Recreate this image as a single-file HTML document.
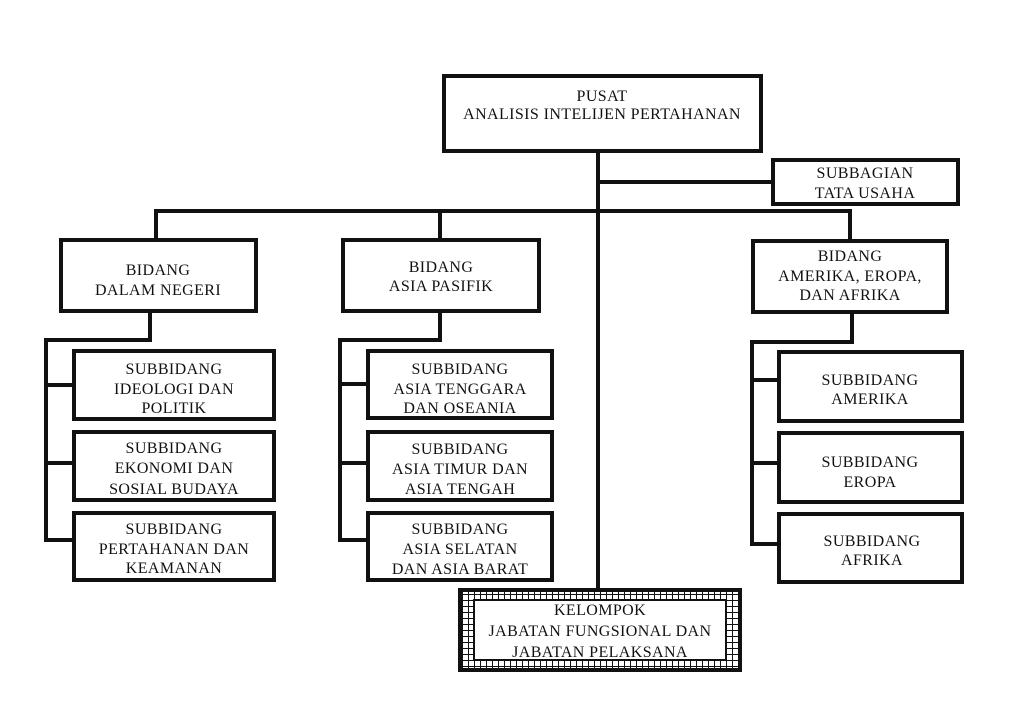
<!DOCTYPE html>
<html><head><meta charset="utf-8"><style>
html,body{margin:0;padding:0;background:#fff;}
svg{display:block}
text{font-family:"Liberation Serif",serif;font-size:16px;letter-spacing:0.4px;fill:#111;text-anchor:middle}
</style></head><body>
<svg width="1024" height="709" viewBox="0 0 1024 709">
<defs>
<pattern id="grid" width="6" height="6" patternUnits="userSpaceOnUse">
<rect width="6" height="6" fill="#fff"/>
<path d="M0 0H6M0 0V6" stroke="#111" stroke-width="2"/>
</pattern>
</defs>
<g stroke="#111" stroke-width="4" fill="none">
<path d="M598 152V590"/>
<path d="M598 182H772"/>
<path d="M156 240V211H850V240"/>
<path d="M440 211V240"/>
<path d="M150 311V340H46V540H73M46 385H73M46 463H73"/>
<path d="M440 311V340H340V540H367M340 384H367M340 463H367"/>
<path d="M852 313V342H752V544H778M752 380H778M752 463H778"/>
<rect x="444" y="76" width="317" height="75" fill="#fff"/>
<rect x="773" y="160" width="185" height="44" fill="#fff"/>
<rect x="61" y="240" width="195" height="71" fill="#fff"/>
<rect x="343" y="240" width="196" height="71" fill="#fff"/>
<rect x="753" y="241" width="194" height="71" fill="#fff"/>
<rect x="74" y="351" width="200" height="68" fill="#fff"/>
<rect x="74" y="432" width="200" height="68" fill="#fff"/>
<rect x="74" y="513" width="200" height="67" fill="#fff"/>
<rect x="368" y="351" width="184" height="67" fill="#fff"/>
<rect x="368" y="432" width="184" height="68" fill="#fff"/>
<rect x="368" y="513" width="184" height="67" fill="#fff"/>
<rect x="779" y="352" width="183" height="69" fill="#fff"/>
<rect x="779" y="433" width="183" height="69" fill="#fff"/>
<rect x="779" y="514" width="183" height="68" fill="#fff"/>
</g>
<rect x="460" y="590" width="280" height="80" fill="url(#grid)" stroke="#111" stroke-width="4"/>
<rect x="474" y="600" width="252" height="60" fill="#fff" stroke="#111" stroke-width="2"/>
<text x="602" y="101">PUSAT</text>
<text x="602" y="119">ANALISIS INTELIJEN PERTAHANAN</text>
<text x="865" y="178">SUBBAGIAN</text>
<text x="865" y="198">TATA USAHA</text>
<text x="158" y="275">BIDANG</text>
<text x="158" y="295">DALAM NEGERI</text>
<text x="441" y="272">BIDANG</text>
<text x="441" y="291">ASIA PASIFIK</text>
<text x="850" y="261">BIDANG</text>
<text x="850" y="281">AMERIKA, EROPA,</text>
<text x="850" y="300">DAN AFRIKA</text>
<text x="174" y="374">SUBBIDANG</text>
<text x="174" y="394">IDEOLOGI DAN</text>
<text x="174" y="413">POLITIK</text>
<text x="174" y="453">SUBBIDANG</text>
<text x="174" y="473">EKONOMI DAN</text>
<text x="174" y="494">SOSIAL BUDAYA</text>
<text x="174" y="534">SUBBIDANG</text>
<text x="174" y="554">PERTAHANAN DAN</text>
<text x="174" y="573">KEAMANAN</text>
<text x="460" y="374">SUBBIDANG</text>
<text x="460" y="394">ASIA TENGGARA</text>
<text x="460" y="413">DAN OSEANIA</text>
<text x="460" y="454">SUBBIDANG</text>
<text x="460" y="474">ASIA TIMUR DAN</text>
<text x="460" y="494">ASIA TENGAH</text>
<text x="460" y="534">SUBBIDANG</text>
<text x="460" y="554">ASIA SELATAN</text>
<text x="460" y="574">DAN ASIA BARAT</text>
<text x="870" y="385">SUBBIDANG</text>
<text x="870" y="404">AMERIKA</text>
<text x="870" y="467">SUBBIDANG</text>
<text x="870" y="487">EROPA</text>
<text x="872" y="546">SUBBIDANG</text>
<text x="872" y="565">AFRIKA</text>
<text x="600" y="615">KELOMPOK</text>
<text x="600" y="636">JABATAN FUNGSIONAL DAN</text>
<text x="600" y="657">JABATAN PELAKSANA</text>
</svg>
</body></html>
